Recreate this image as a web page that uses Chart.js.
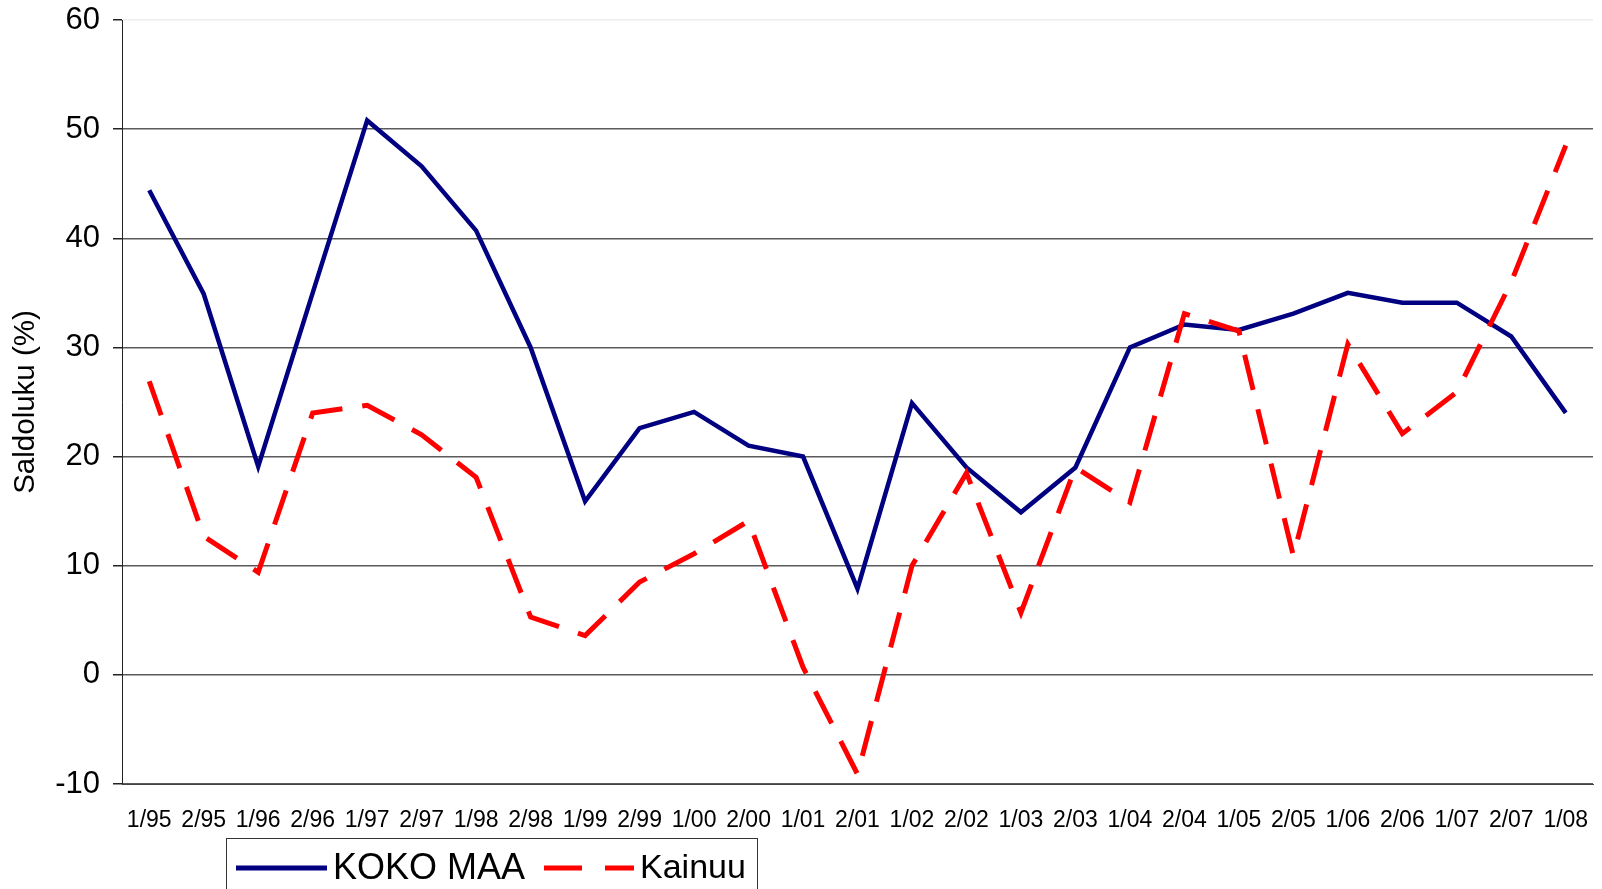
<!DOCTYPE html>
<html>
<head>
<meta charset="utf-8">
<script src="https://cdn.jsdelivr.net/npm/chart.js@4/dist/chart.umd.min.js"></script>
<style>
    html, body { margin: 0; padding: 0; background: #fff; }
    #wrap { width: 1602px; height: 889px; }
</style>
</head>
<body>
<div id="wrap"><canvas id="saldoChart" width="1602" height="889"></canvas></div>
<script>
const periods = ["1/95", "2/95", "1/96", "2/96", "1/97", "2/97", "1/98", "2/98", "1/99", "2/99",
    "1/00", "2/00", "1/01", "2/01", "1/02", "2/02", "1/03", "2/03", "1/04", "2/04",
    "1/05", "2/05", "1/06", "2/06", "1/07", "2/07", "1/08"];
const kokoMaa = [44.4, 34.9, 19.1, 35.0, 50.8, 46.6, 40.7, 30.0, 15.9, 22.6,
    24.1, 21.0, 20.0, 7.9, 24.9, 19.0, 14.9, 19.0, 30.0, 32.1,
    31.6, 33.1, 35.0, 34.1, 34.1, 31.0, 24.0];
const kainuu = [26.9, 12.7, 9.4, 24.0, 24.7, 22.0, 18.1, 5.3, 3.6, 8.5,
    11.1, 14.1, 0.7, -9.1, 10.0, 18.5, 5.7, 19.0, 15.8, 33.1,
    31.5, 10.9, 30.3, 22.1, 25.9, 36.0, 48.5];
const yTicks = [-10, 0, 10, 20, 30, 40, 50, 60];

const FONT = "'Liberation Sans', Arial, sans-serif";

// legend drawn by hand so it can sit in its own bordered box bottom-left
const legendBox = {
    id: "legendBox",
    afterDraw(chart) {
        const ctx = chart.ctx;
        const sets = chart.data.datasets;
        ctx.save();
        ctx.strokeStyle = "#333";
        ctx.lineWidth = 1;
        ctx.strokeRect(226.5, 838.5, 531, 60);

        const y = 868;
        ctx.font = "36px " + FONT;
        ctx.textBaseline = "middle";
        ctx.fillStyle = "#000";

        ctx.strokeStyle = sets[0].borderColor;
        ctx.lineWidth = 5;
        ctx.beginPath();
        ctx.moveTo(236, y);
        ctx.lineTo(327, y);
        ctx.stroke();
        ctx.fillText(sets[0].label, 333, y + 1);

        ctx.strokeStyle = sets[1].borderColor;
        ctx.setLineDash([38, 23]);
        ctx.beginPath();
        ctx.moveTo(544, y);
        ctx.lineTo(634, y);
        ctx.stroke();
        ctx.setLineDash([]);
        ctx.font = "34px " + FONT;
        ctx.fillText(sets[1].label, 640, y + 1);
        ctx.restore();
    }
};

new Chart(document.getElementById("saldoChart"), {
    type: "line",
    data: {
        labels: periods,
        datasets: [
            {
                label: "KOKO MAA",
                data: kokoMaa,
                borderColor: "#000080",
                backgroundColor: "#000080",
                borderWidth: 4.5,
                pointRadius: 0,
                tension: 0,
                order: 1,
            },
            {
                label: "Kainuu",
                data: kainuu,
                borderColor: "#ff0000",
                backgroundColor: "#ff0000",
                borderWidth: 5,
                borderDash: [36, 20],
                pointRadius: 0,
                tension: 0,
                order: 0,
            },
        ],
    },
    options: {
        responsive: false,
        animation: false,
        layout: { padding: { left: 0, right: 9, top: 20, bottom: 60 } },
        plugins: {
            legend: { display: false },
            tooltip: { enabled: false },
        },
        scales: {
            x: {
                offset: true,
                grid: { display: false, drawTicks: false },
                border: { display: true, color: "#444", width: 1 },
                ticks: {
                    autoSkip: false,
                    maxRotation: 0,
                    minRotation: 0,
                    padding: 23,
                    color: "#000",
                    font: { family: FONT, size: 23 },
                },
                afterFit(scale) {
                    scale.height = 45;
                    scale.paddingLeft = 0;
                    scale.paddingRight = 0;
                },
            },
            y: {
                min: -10,
                max: 60,
                afterBuildTicks(scale) {
                    scale.ticks = yTicks.map(v => ({ value: v }));
                },
                grid: {
                    color: ctx => (ctx.tick && ctx.tick.value === 60 ? "#eeeeee" : "#5a5a5a"),
                    lineWidth: 1.5,
                    tickColor: "#222",
                    tickLength: 9,
                },
                border: { display: true, color: "#222", width: 1 },
                ticks: {
                    padding: 13,
                    color: "#000",
                    font: { family: FONT, size: 31 },
                },
                title: {
                    display: true,
                    text: "Saldoluku (%)",
                    color: "#000",
                    font: { family: FONT, size: 29.5 },
                    padding: { top: 8, bottom: 4 },
                },
                afterFit(scale) {
                    scale.width = 122;
                    scale.paddingTop = 0;
                    scale.paddingBottom = 0;
                },
            },
        },
    },
    plugins: [legendBox],
});
</script>
</body>
</html>
